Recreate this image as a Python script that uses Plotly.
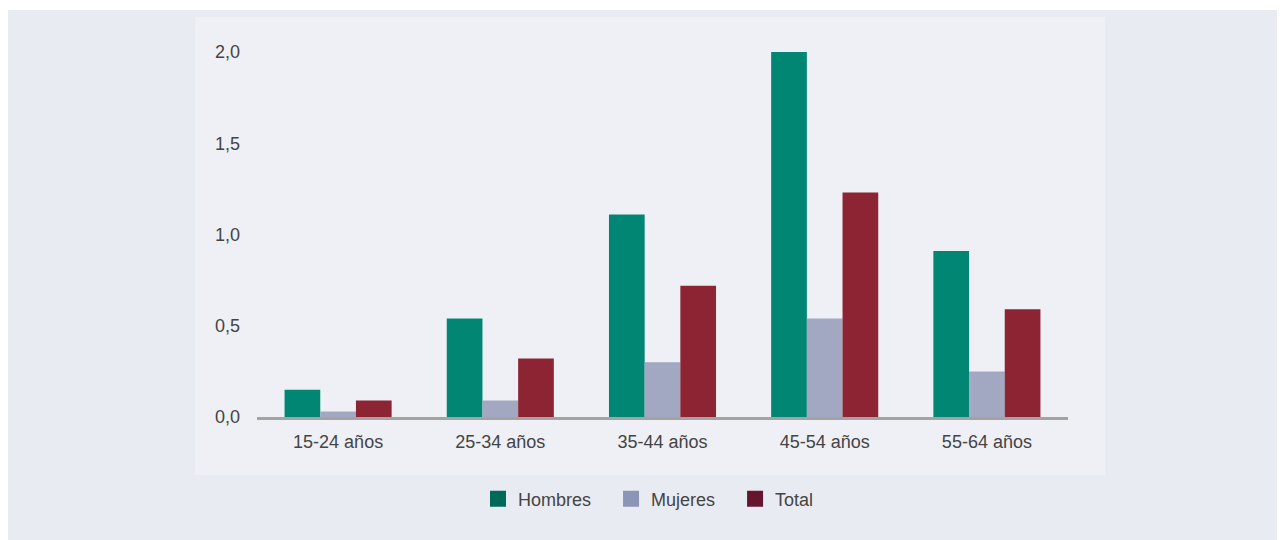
import plotly.graph_objects as go

# data
categorias = ["15-24 años", "25-34 años", "35-44 años", "45-54 años", "55-64 años"]
hombres = [0.15, 0.54, 1.11, 2.00, 0.91]
mujeres = [0.03, 0.09, 0.30, 0.54, 0.25]
total = [0.09, 0.32, 0.72, 1.23, 0.59]

series = [
    ("Hombres", hombres, "#008672", "#006a59"),
    ("Mujeres", mujeres, "#a2a7c2", "#8b95b6"),
    ("Total", total, "#8c2433", "#66152f"),
]

# the page adds an 8px body margin, so the figure is a bit smaller
OFF = 8
W, H = 1285 - OFF, 540 - OFF
L, R, T, B = 257 - OFF, 1068 - OFF, 43 - OFF, 417 - OFF
YMAX = 2.05


def px_x(p):
    return (p - OFF - L) / (R - L)


def px_y(p):
    return (B - (p - OFF)) / (B - T)


fig = go.Figure()
for name, vals, bar_col, leg_col in series:
    fig.add_trace(go.Bar(x=categorias, y=vals, name=name, marker=dict(color=bar_col, line=dict(width=0)),
                         showlegend=False))
pad = "\u00a0" * 3
for i, (name, vals, bar_col, leg_col) in enumerate(series):
    label = name + (pad if i < len(series) - 1 else "")
    fig.add_trace(go.Scatter(x=[None], y=[None], mode="markers", name=label,
                             marker=dict(symbol="square", size=18, color=leg_col)))

shapes = [
    # white strip above the outer background
    dict(type="rect", xref="paper", yref="paper", layer="below", line=dict(width=0),
         x0=px_x(0), x1=px_x(1285), y0=px_y(10), y1=px_y(0), fillcolor="white"),
    # inner panel
    dict(type="rect", xref="paper", yref="paper", layer="below", line=dict(width=0),
         x0=px_x(195), x1=px_x(1105), y0=px_y(475), y1=px_y(17), fillcolor="#eef0f5"),
]

fig.update_layout(
    width=W, height=H,
    margin=dict(l=L, r=W - R, t=T, b=H - B),
    paper_bgcolor="#e9ebf3",
    plot_bgcolor="rgba(0,0,0,0)",
    separators=",.",
    barmode="group",
    bargap=0.34,
    bargroupgap=0,
    font=dict(family="Liberation Sans, Arial, sans-serif", size=18, color="#444444"),
    shapes=shapes,
    legend=dict(orientation="h", x=px_x(478), xanchor="left", y=px_y(499), yanchor="middle",
                bgcolor="rgba(0,0,0,0)", font=dict(size=18, color="#444444"),
                itemwidth=30, tracegroupgap=0),
    xaxis=dict(showgrid=False, showline=True, linecolor="#a3a3a3", linewidth=3,
               ticks="", ticklabelstandoff=6),
    yaxis=dict(range=[0, YMAX], showgrid=False, zeroline=False, showline=False,
               tickvals=[0, 0.5, 1.0, 1.5, 2.0], tickformat=".1f", ticks="",
               ticklabelstandoff=16),
)

fig.write_html("out.html")
